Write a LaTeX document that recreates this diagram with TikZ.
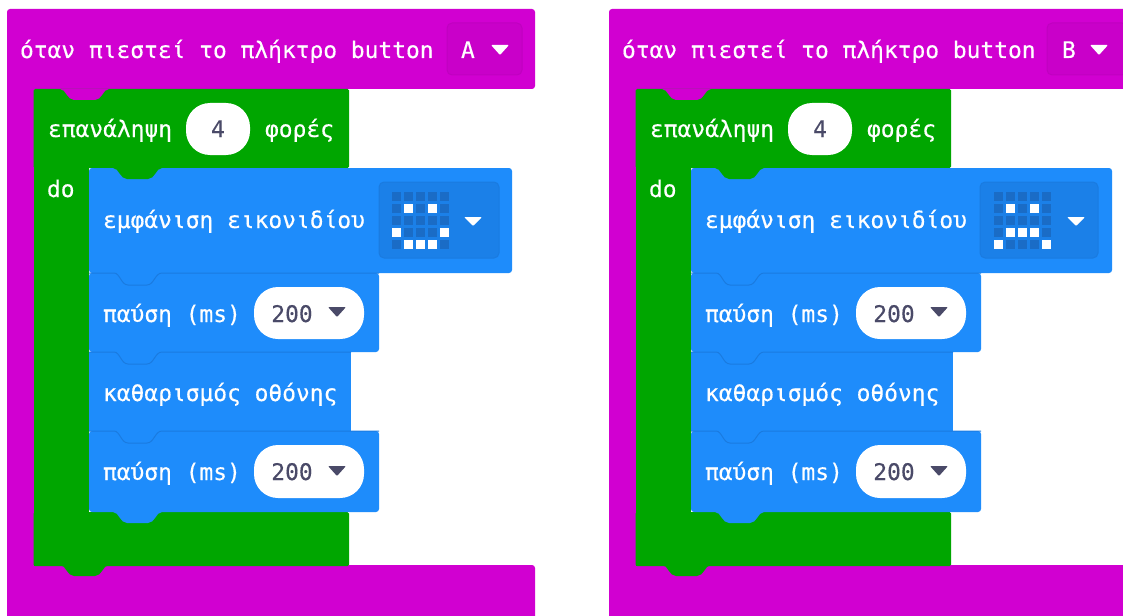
\documentclass[tikz,border=0pt]{standalone}
\usepackage{fontspec}
\setmainfont[FakeBold=0.35]{DejaVu Sans Mono}
\definecolor{purp}{HTML}{D100D1}
\definecolor{purpd}{HTML}{C000C0}
\definecolor{purpf}{HTML}{C900C9}
\definecolor{grn}{HTML}{00A600}
\definecolor{blu}{HTML}{1E8CFB}
\definecolor{blud}{HTML}{1A7BE0}
\definecolor{dim}{HTML}{1A6CC6}
\definecolor{ink}{HTML}{4A4A68}
\tikzset{
  x=1pt,y=-1pt,
  lbl/.style={anchor=base west,inner sep=0pt,outer sep=0pt,text=white,font=\fontsize{22.9}{24}\selectfont},
  val/.style={anchor=base,inner sep=0pt,outer sep=0pt,text=ink,font=\fontsize{22.9}{24}\selectfont},
  pill/.style={fill=white,rounded corners=24pt},
  dropbox/.style={rounded corners=5pt,line width=1pt},
}
% bump: x, y, colour
\newcommand{\bump}[3]{\fill[#3] ({#1},{#2}) .. controls ({#1+6},{#2}) and ({#1+7},{#2+11}) .. ({#1+14},{#2+11}) -- ({#1+35},{#2+11}) .. controls ({#1+42},{#2+11}) and ({#1+43},{#2}) .. ({#1+49},{#2}) -- cycle;}
% seam: x, y, right end
\newcommand{\seam}[3]{\draw[blud,line width=1pt] ({#1},{#2}) -- ({#1+25},{#2}) .. controls ({#1+31},{#2}) and ({#1+32},{#2+12}) .. ({#1+39},{#2+12}) -- ({#1+58},{#2+12}) .. controls ({#1+65},{#2+12}) and ({#1+66},{#2}) .. ({#1+73},{#2}) -- ({#3},{#2});}
\newcommand{\tri}[4]{\fill[#4,rounded corners=1pt] ({#1-9},{#2-4}) -- ({#1+9},{#2-4}) -- ({#1},{#2+#3}) -- cycle;}
% prefix, dx, purple right, blue right, dropdown left, dropdown right, letter, letter x, arrow x
\newcommand{\panel}[9]{
  \begin{scope}[xshift=#2pt]
  \fill[purp,rounded corners=3pt] (7,9) -- (#3,9) -- (#3,89) -- (34,89) -- (34,565) -- (#3,565) -- (#3,640) -- (7,640) -- cycle;
  \fill[grn,rounded corners=1.5pt] (33.5,89) rectangle (349,168);
  \fill[grn] (33.5,160) rectangle (89,566);
  \fill[grn,rounded corners=1.5pt] (33.5,512) rectangle (349,566);
  \bump{60}{89}{purp}
  \bump{60}{565}{grn}
  \fill[blu,rounded corners=3pt] (89,168) rectangle (#4,273);
  \fill[blu,rounded corners=3pt] (89,273) rectangle (379,352);
  \fill[blu] (89,352) rectangle (351,431);
  \fill[blu,rounded corners=3pt] (89,431) rectangle (379,512);
  \bump{113}{168}{grn}
  \bump{113}{512}{blu}
  \seam{89}{273}{379}
  \seam{89}{352}{351}
  \seam{89}{431}{379}
  \draw[purpd,fill=purpf,dropbox] (#5,23) rectangle (#6,75);
  \node[lbl] (#1head) at (20,58) {όταν πιεστεί το πλήκτρο button};
  \node[lbl] (#1key) at (#8,58) {#7};
  \tri{#9}{49}{6}{white}
  \node[lbl] (#1rep) at (48,137) {επανάληψη};
  \fill[pill] (186,103) rectangle (250,155);
  \node[val] (#1num) at (218,137) {4};
  \node[lbl] (#1times) at (265,137) {φορές};
  \node[lbl] (#1do) at (47,197) {do};
  \node[lbl] (#1icon) at (103,228) {εμφάνιση εικονιδίου};
  \node[lbl] (#1pa) at (103,322) {παύση (ms)};
  \fill[pill] (254,287) rectangle (364,339);
  \node[val] (#1pav) at (292,322) {200};
  \tri{337}{311}{6}{ink}
  \node[lbl] (#1clr) at (103,401) {καθαρισμός οθόνης};
  \node[lbl] (#1pb) at (103,480) {παύση (ms)};
  \fill[pill] (254,445) rectangle (364,498);
  \node[val] (#1pbv) at (292,480) {200};
  \tri{337}{470}{6}{ink}
  \end{scope}
}
% x0 of first column; list of lit cells as col/row
\newcommand{\matrixicon}[2]{
  \foreach \c in {0,...,4} \foreach \r in {0,...,4}
    \fill[dim] ({#1+12*\c-4.5},{196+12*\r-4.5}) rectangle ++(9,9);
  \foreach \c/\r in {#2}
    \fill[white] ({#1+12*\c-4.5},{196+12*\r-4.5}) rectangle ++(9,9);
}
\begin{document}
\begin{tikzpicture}
\useasboundingbox (0,0) rectangle (1123,615);
\fill[white] (0,0) rectangle (1123,615);
\begin{scope}
\clip (0,0) rectangle (1123,615);
\panel{a}{0}{535}{512}{447}{522}{A}{461}{500}
\panel{b}{602}{530}{510}{445}{525}{B}{460}{497}
\draw[blud,fill=blud!70!blu,rounded corners=5pt,line width=1pt] (379,182) rectangle (499,258);
\matrixicon{396}{1/1,3/1,0/3,4/3,1/4,2/4,3/4}
\tri{473}{221}{5}{white}
\draw[blud,fill=blud!70!blu,rounded corners=5pt,line width=1pt] (980,182) rectangle (1098,258);
\matrixicon{998}{1/1,3/1,1/3,2/3,3/3,0/4,4/4}
\tri{1076}{221}{5}{white}
\end{scope}
\end{tikzpicture}
\end{document}
